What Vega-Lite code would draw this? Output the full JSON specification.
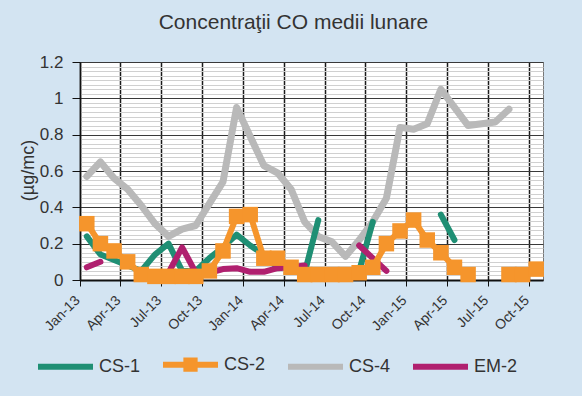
{
  "$schema": "https://vega.github.io/schema/vega-lite/v6.json",
  "width": 463,
  "height": 218,
  "autosize": {"type": "none"},
  "padding": {"left": 80, "top": 62, "right": 39, "bottom": 116},
  "background": "#d3e4f2",
  "config": {
    "font": "Liberation Sans",
    "view": {"fill": "#ffffff", "stroke": "#777777", "strokeWidth": 1}
  },
  "title": {
    "text": "Concentraţii CO medii lunare",
    "fontSize": 21,
    "fontWeight": "normal",
    "color": "#333333",
    "anchor": "middle",
    "dx": -18,
    "offset": 20
  },
  "data": {
    "values": [
      {"m": "Jan-13", "CS-1": 0.24, "CS-2": 0.31, "CS-4": 0.57, "EM-2": 0.07},
      {"m": "Feb-13", "CS-1": 0.14, "CS-2": 0.20, "CS-4": 0.65, "EM-2": 0.10},
      {"m": "Mar-13", "CS-1": 0.11, "CS-2": 0.16, "CS-4": 0.56, "EM-2": null},
      {"m": "Apr-13", "CS-1": 0.08, "CS-2": 0.10, "CS-4": 0.50, "EM-2": null},
      {"m": "May-13", "CS-1": 0.05, "CS-2": 0.03, "CS-4": 0.41, "EM-2": null},
      {"m": "Jun-13", "CS-1": 0.14, "CS-2": 0.02, "CS-4": 0.31, "EM-2": 0.03},
      {"m": "Jul-13", "CS-1": 0.20, "CS-2": 0.02, "CS-4": 0.24, "EM-2": 0.04},
      {"m": "Aug-13", "CS-1": 0.05, "CS-2": 0.02, "CS-4": 0.28, "EM-2": 0.18},
      {"m": "Sep-13", "CS-1": 0.05, "CS-2": 0.02, "CS-4": 0.30, "EM-2": 0.04},
      {"m": "Oct-13", "CS-1": 0.12, "CS-2": 0.05, "CS-4": 0.42, "EM-2": 0.04},
      {"m": "Nov-13", "CS-1": 0.18, "CS-2": 0.16, "CS-4": 0.54, "EM-2": 0.06},
      {"m": "Dec-13", "CS-1": 0.25, "CS-2": 0.35, "CS-4": 0.95, "EM-2": 0.065},
      {"m": "Jan-14", "CS-1": 0.19, "CS-2": 0.36, "CS-4": 0.79, "EM-2": 0.045},
      {"m": "Feb-14", "CS-1": 0.14, "CS-2": 0.12, "CS-4": 0.63, "EM-2": 0.045},
      {"m": "Mar-14", "CS-1": 0.07, "CS-2": 0.12, "CS-4": 0.59, "EM-2": 0.065},
      {"m": "Apr-14", "CS-1": null, "CS-2": 0.07, "CS-4": 0.50, "EM-2": 0.07},
      {"m": "May-14", "CS-1": 0.04, "CS-2": 0.03, "CS-4": 0.32, "EM-2": 0.08},
      {"m": "Jun-14", "CS-1": 0.33, "CS-2": 0.03, "CS-4": 0.24, "EM-2": null},
      {"m": "Jul-14", "CS-1": null, "CS-2": 0.03, "CS-4": 0.21, "EM-2": null},
      {"m": "Aug-14", "CS-1": null, "CS-2": 0.03, "CS-4": 0.13, "EM-2": null},
      {"m": "Sep-14", "CS-1": 0.05, "CS-2": 0.04, "CS-4": 0.22, "EM-2": 0.19},
      {"m": "Oct-14", "CS-1": 0.32, "CS-2": 0.07, "CS-4": 0.32, "EM-2": 0.12},
      {"m": "Nov-14", "CS-1": null, "CS-2": 0.20, "CS-4": 0.45, "EM-2": 0.05},
      {"m": "Dec-14", "CS-1": null, "CS-2": 0.27, "CS-4": 0.84, "EM-2": null},
      {"m": "Jan-15", "CS-1": null, "CS-2": 0.33, "CS-4": 0.83, "EM-2": null},
      {"m": "Feb-15", "CS-1": null, "CS-2": 0.22, "CS-4": 0.86, "EM-2": null},
      {"m": "Mar-15", "CS-1": 0.36, "CS-2": 0.15, "CS-4": 1.05, "EM-2": null},
      {"m": "Apr-15", "CS-1": 0.22, "CS-2": 0.07, "CS-4": 0.95, "EM-2": null},
      {"m": "May-15", "CS-1": null, "CS-2": 0.03, "CS-4": 0.85, "EM-2": null},
      {"m": "Jun-15", "CS-1": null, "CS-2": null, "CS-4": 0.86, "EM-2": null},
      {"m": "Jul-15", "CS-1": null, "CS-2": null, "CS-4": 0.87, "EM-2": null},
      {"m": "Aug-15", "CS-1": null, "CS-2": 0.03, "CS-4": 0.94, "EM-2": null},
      {"m": "Sep-15", "CS-1": null, "CS-2": 0.03, "CS-4": null, "EM-2": null},
      {"m": "Oct-15", "CS-1": null, "CS-2": 0.06, "CS-4": null, "EM-2": null}
    ]
  },
  "transform": [
    {"fold": ["CS-1", "CS-2", "CS-4", "EM-2"], "as": ["s", "v"]}
  ],
  "encoding": {
    "x": {
      "field": "m",
      "type": "ordinal",
      "scale": {
        "type": "band",
        "paddingInner": 0,
        "paddingOuter": 0,
        "domain": ["Jan-13","Feb-13","Mar-13","Apr-13","May-13","Jun-13","Jul-13","Aug-13","Sep-13","Oct-13","Nov-13","Dec-13","Jan-14","Feb-14","Mar-14","Apr-14","May-14","Jun-14","Jul-14","Aug-14","Sep-14","Oct-14","Nov-14","Dec-14","Jan-15","Feb-15","Mar-15","Apr-15","May-15","Jun-15","Jul-15","Aug-15","Sep-15","Oct-15"]
      },
      "axis": {
        "title": null,
        "values": ["Jan-13","Apr-13","Jul-13","Oct-13","Jan-14","Apr-14","Jul-14","Oct-14","Jan-15","Apr-15","Jul-15","Oct-15"],
        "bandPosition": 0,
        "grid": true,
        "gridColor": "#1a1a1a",
        "gridWidth": 1.5,
        "gridOpacity": 1,
        "tickSize": 6,
        "tickColor": "#111111",
        "domainColor": "#111111",
        "domainWidth": 2,
        "labelAngle": -45,
        "labelAlign": "right",
        "labelBaseline": "middle",
        "labelPadding": 12,
        "labelOffset": -9,
        "labelFontSize": 14,
        "labelColor": "#333333",
        "labelOverlap": false
      }
    },
    "y": {
      "field": "v",
      "type": "quantitative",
      "scale": {"domain": [0, 1.2], "nice": false, "zero": true},
      "title": "(µg/mc)",
      "axis": {
        "values": [0,0.025,0.05,0.075,0.1,0.125,0.15,0.175,0.2,0.225,0.25,0.275,0.3,0.325,0.35,0.375,0.4,0.425,0.45,0.475,0.5,0.525,0.55,0.575,0.6,0.625,0.65,0.675,0.7,0.725,0.75,0.775,0.8,0.825,0.85,0.875,0.9,0.925,0.95,0.975,1,1.025,1.05,1.075,1.1,1.125,1.15,1.175,1.2],
        "labelExpr": "abs(datum.value*5-round(datum.value*5))<0.001 ? format(datum.value,'~g') : ''",
        "labelOverlap": false,
        "labelFontSize": 17,
        "labelColor": "#333333",
        "labelPadding": 9,
        "tickSize": 8,
        "tickColor": "#111111",
        "tickOpacity": {"condition": {"test": "abs(datum.value*5-round(datum.value*5))<0.001", "value": 1}, "value": 0},
        "grid": true,
        "gridColor": {"condition": {"test": "abs(datum.value*5-round(datum.value*5))<0.001", "value": "#3a3a3a"}, "value": "#d0d0d0"},
        "gridOpacity": 1,
        "gridWidth": 1,
        "domainColor": "#111111",
        "domainWidth": 1.5,
        "titleFontSize": 18,
        "titleFontWeight": "normal",
        "titleColor": "#333333",
        "titleAngle": -90,
        "titleAlign": "center",
        "titleBaseline": "middle",
        "titleX": -52,
        "titleY": 108
      }
    },
    "color": {
      "field": "s",
      "type": "nominal",
      "scale": {
        "domain": ["CS-1", "CS-2", "CS-4", "EM-2"],
        "range": ["#1f8f74", "#f5952c", "#b9b9b9", "#b0206f"]
      },
      "legend": {
        "title": null,
        "orient": "none",
        "legendX": -45,
        "legendY": 272,
        "direction": "horizontal",
        "padding": 0,
        "symbolType": "stroke",
        "symbolSize": 3025,
        "symbolStrokeWidth": 6,
        "labelFontSize": 18,
        "labelColor": "#333333",
        "labelOffset": 3,
        "columnPadding": 10,
        "encoding": {
          "symbols": {
            "shape": {
              "condition": {"test": "datum.value === 'CS-2'", "value": "M-1,0H1M-0.15,-0.15H0.15V0.15H-0.15Z"},
              "value": "M-1,0H1"
            }
          }
        }
      }
    }
  },
  "layer": [
    {
      "transform": [{"filter": "datum.s === 'CS-4'"}],
      "mark": {"type": "line", "strokeWidth": 7, "strokeCap": "round", "strokeJoin": "round"}
    },
    {
      "transform": [{"filter": "datum.s === 'CS-1'"}],
      "mark": {"type": "line", "strokeWidth": 6, "strokeCap": "round", "strokeJoin": "round"}
    },
    {
      "transform": [{"filter": "datum.s === 'EM-2'"}],
      "mark": {"type": "line", "strokeWidth": 6, "strokeCap": "round", "strokeJoin": "round"}
    },
    {
      "transform": [{"filter": "datum.s === 'CS-2'"}],
      "mark": {"type": "line", "strokeWidth": 6, "strokeJoin": "miter"}
    },
    {
      "transform": [{"filter": "datum.s === 'CS-2'"}],
      "mark": {"type": "square", "size": 240, "filled": true, "opacity": 1}
    }
  ]
}
